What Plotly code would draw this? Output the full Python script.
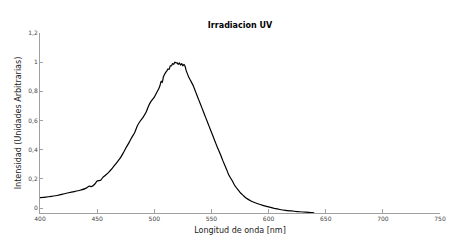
import plotly.graph_objects as go

wavelength = [400, 405, 410, 415, 420, 425, 430, 435, 440, 443, 445, 448, 450, 453, 455, 458, 460, 463, 465, 468, 470, 473, 475, 478, 480, 483, 485, 488, 490, 493, 495, 497, 500, 502, 504, 505, 506, 507, 508, 510, 511, 512, 513, 514, 515, 516, 517, 518, 519, 520, 521, 522, 523, 524, 525, 526, 527, 528, 529, 530, 532, 534, 536, 538, 540, 543, 545, 548, 550, 553, 555, 558, 560, 563, 565, 568, 570, 573, 575, 578, 580, 585, 590, 595, 600, 605, 610, 615, 620, 625, 630, 635, 640]
intensity = [0.072, 0.075, 0.08, 0.086, 0.095, 0.105, 0.113, 0.122, 0.135, 0.15, 0.147, 0.165, 0.185, 0.19, 0.21, 0.23, 0.245, 0.27, 0.29, 0.32, 0.34, 0.38, 0.41, 0.45, 0.48, 0.52, 0.56, 0.6, 0.62, 0.66, 0.7, 0.73, 0.76, 0.79, 0.82, 0.84, 0.87, 0.86, 0.9, 0.93, 0.94, 0.955, 0.95, 0.975, 0.975, 0.99, 0.985, 1.0, 0.995, 0.995, 0.985, 0.995, 0.98, 0.99, 0.975, 0.985, 0.97, 0.94, 0.92, 0.9, 0.87, 0.84, 0.8, 0.76, 0.72, 0.66, 0.62, 0.56, 0.52, 0.46, 0.42, 0.365, 0.325, 0.27, 0.23, 0.19, 0.16, 0.128, 0.108, 0.085, 0.07, 0.047, 0.031, 0.018, 0.008, -0.002, -0.01, -0.016, -0.02, -0.024, -0.027, -0.03, -0.033]

y_ticks = [0, 0.2, 0.4, 0.6, 0.8, 1.0, 1.2]
y_labels = ["0", "0,2", "0,4", "0,6", "0,8", "1", "1,2"]
x_ticks = [400, 450, 500, 550, 600, 650, 700, 750]

fig = go.Figure()
fig.add_trace(go.Scatter(x=wavelength, y=intensity, mode="lines", line_shape="spline",
                         line=dict(color="black", width=1.2, smoothing=0.4), showlegend=False))

axis_col = "#a0a0a0"
tick_font = dict(family="DejaVu Sans", size=6, color="#444")
fig.update_layout(
    width=455, height=239,
    margin=dict(l=32, r=23, t=25, b=34),
    paper_bgcolor="white", plot_bgcolor="white",
    title=dict(text="<b>Irradiacion UV</b>", x=0.5, xref="paper", xanchor="center",
               y=1 - 17.5/239, yanchor="middle",
               font=dict(family="DejaVu Sans", size=8, color="black")),
    xaxis=dict(range=[400, 750], tickvals=x_ticks, showgrid=False, zeroline=False,
               automargin=False,
               showline=True, linecolor=axis_col, linewidth=1,
               ticks="inside", ticklen=4, tickcolor=axis_col, tickfont=tick_font,
               title=dict(text="Longitud de onda [nm]", standoff=6,
                          font=dict(family="DejaVu Sans", size=8, color="#222"))),
    yaxis=dict(range=[-0.034, 1.2], tickvals=y_ticks, ticktext=y_labels,
               showgrid=False, zeroline=False, automargin=False,
               showline=True, linecolor=axis_col, linewidth=1,
               ticks="inside", ticklen=3, tickcolor=axis_col, tickfont=tick_font,
               title=dict(text="Intensidad (Unidades Arbitrarias)", standoff=5,
                          font=dict(family="DejaVu Sans", size=8, color="#222"))),
)

fig.write_html("out.html")
